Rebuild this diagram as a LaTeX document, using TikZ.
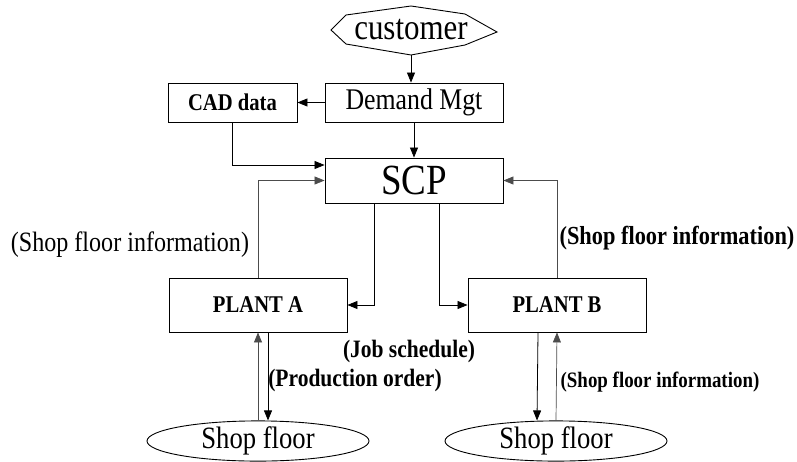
\documentclass[tikz,border=0pt]{standalone}
\usepackage{fontspec}
\setmainfont{Liberation Serif}[FakeStretch=0.86]
\usetikzlibrary{arrows.meta,shapes.geometric}
\begin{document}
\begin{tikzpicture}[x=1pt,y=-1pt,
  box/.style={draw, line width=0.9pt, inner sep=0pt},
  flow/.style={line width=0.8pt, -{Triangle[length=10pt,width=8pt]}},
  info/.style={line width=0.7pt, draw=black!70, -{Triangle[length=10pt,width=8pt]}},
  sfloor/.style={draw, ellipse, line width=0.9pt, inner sep=0pt,
    minimum width=222pt, minimum height=37pt, font=\fontsize{31}{31}\selectfont},
  plant/.style={box, minimum width=178pt, minimum height=54pt,
    font=\bfseries\fontsize{24}{24}\selectfont},
  note/.style={inner sep=0pt, font=\bfseries\fontsize{25}{25}\selectfont}
]
\useasboundingbox (0,0) rectangle (797,461);

% customer: four-pointed star outline around the label
\node[minimum height=50pt, inner sep=0pt, font=\fontsize{36}{36}\selectfont] (cust) at (411,30) {customer};
\draw[line width=0.9pt, shift={(cust.center)}]
  (-80,0) -- (-65,-15) -- (0,-24) -- (54,-16) -- (86,2) -- (54,15) -- (0,25) -- (-65,14) -- cycle;

% planning boxes
\node[box, minimum width=178pt, minimum height=39pt, font=\fontsize{30}{30}\selectfont] (dm) at (414,102.5) {Demand Mgt};
\node[box, minimum width=129pt, minimum height=39pt, font=\bfseries\fontsize{24}{24}\selectfont] (cad) at (232.5,102.5) {CAD data};
\node[box, minimum width=178pt, minimum height=45pt, font=\fontsize{43}{43}\selectfont] (scp) at (414,180.5) {SCP};

% plants and shop floors
\node[plant] (pa) at (258,305) {PLANT A};
\node[plant] (pb) at (557,305) {PLANT B};
\node[sfloor] (sfa) at (258,441) {Shop floor};
\node[sfloor] (sfb) at (556,441) {Shop floor};

% labels
\node[inner sep=0pt, font=\fontsize{28}{28}\selectfont] (infoA) at (130,245) {(Shop floor information)};
\node[note, font=\bfseries\fontsize{26}{26}\selectfont] (infoB) at (677,238) {(Shop floor information)};
\node[note] (jobs) at (409,351) {(Job schedule)};
\node[note] (prod) at (355,380) {(Production order)};
\node[note, font=\bfseries\fontsize{22}{22}\selectfont] (infoC) at (660,382) {(Shop floor information)};

% connectors
\draw[flow] (cust.south) -- (dm.north -| cust.south);
\draw[flow] (dm.west) -- (cad.east);
\draw[flow] (dm.south) -- (scp.north);
\draw[flow] (cad.south) |- ([yshift=15.5pt]scp.west);
\draw[info] (pa.north) |- (scp.west);
\draw[info] (pb.north) |- (scp.east);
\draw[flow] ([xshift=-40pt]scp.south) |- (pa.east);
\draw[flow] ([xshift=25pt]scp.south) |- (pb.west);
\draw[info] (sfa.north) -- (pa.south);
\draw[flow] ([xshift=10pt]pa.south) -- ([xshift=10pt]sfa.north);
\draw[info] (sfb.north) -- (pb.south);
\draw[flow] ([xshift=-19pt]pb.south) -- ([xshift=-19pt]sfb.north);
\end{tikzpicture}
\end{document}
